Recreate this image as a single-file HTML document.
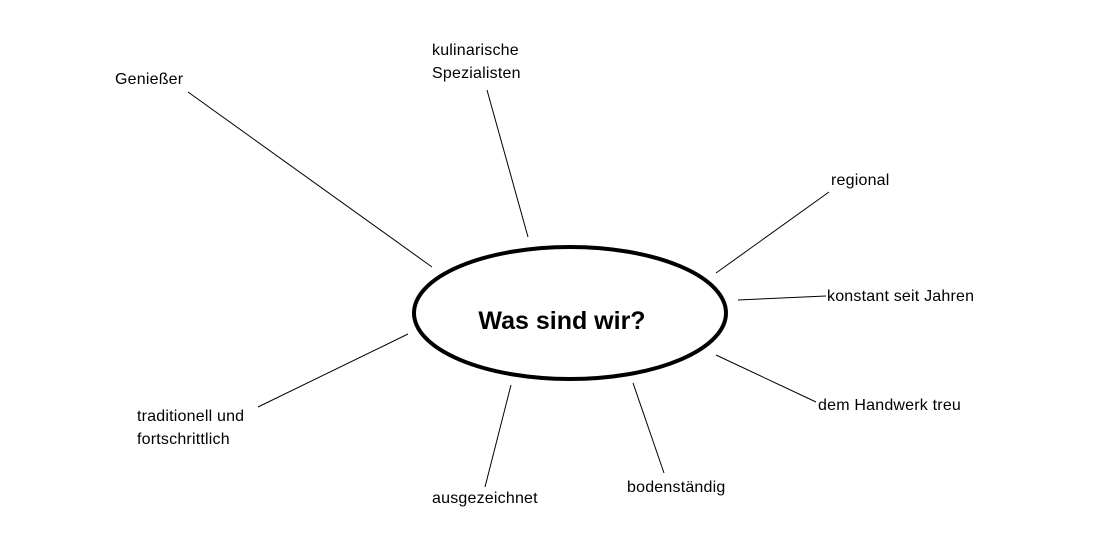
<!DOCTYPE html>
<html><head><meta charset="utf-8"><style>
html,body{margin:0;padding:0;background:#fff;width:1100px;height:554px;overflow:hidden}
svg text{font-family:"Liberation Sans",sans-serif;font-size:16px;letter-spacing:0.2px;fill:#000}
</style></head><body>
<svg width="1100" height="554" viewBox="0 0 1100 554" xmlns="http://www.w3.org/2000/svg">
<g stroke="#000" stroke-width="1" fill="none">
<line x1="188" y1="92" x2="432" y2="267"/>
<line x1="487" y1="90" x2="528" y2="237"/>
<line x1="829" y1="192" x2="716" y2="273"/>
<line x1="738" y1="300" x2="826" y2="296"/>
<line x1="716" y1="355" x2="816" y2="402"/>
<line x1="633" y1="383" x2="664" y2="473"/>
<line x1="511" y1="385" x2="485" y2="487"/>
<line x1="408" y1="334" x2="258" y2="407"/>
</g>
<ellipse cx="570" cy="313" rx="156" ry="66" fill="#fff" stroke="#000" stroke-width="4"/>
<text x="562" y="329" text-anchor="middle" style="font-size:25px;font-weight:bold;letter-spacing:0">Was sind wir?</text>
<text x="115" y="84">Genießer</text>
<text x="432" y="55">kulinarische</text>
<text x="432" y="78">Spezialisten</text>
<text x="831" y="185">regional</text>
<text x="827" y="301">konstant seit Jahren</text>
<text x="818" y="410">dem Handwerk treu</text>
<text x="627" y="492">bodenständig</text>
<text x="432" y="503">ausgezeichnet</text>
<text x="137" y="421">traditionell und</text>
<text x="137" y="444">fortschrittlich</text>
</svg>
</body></html>
